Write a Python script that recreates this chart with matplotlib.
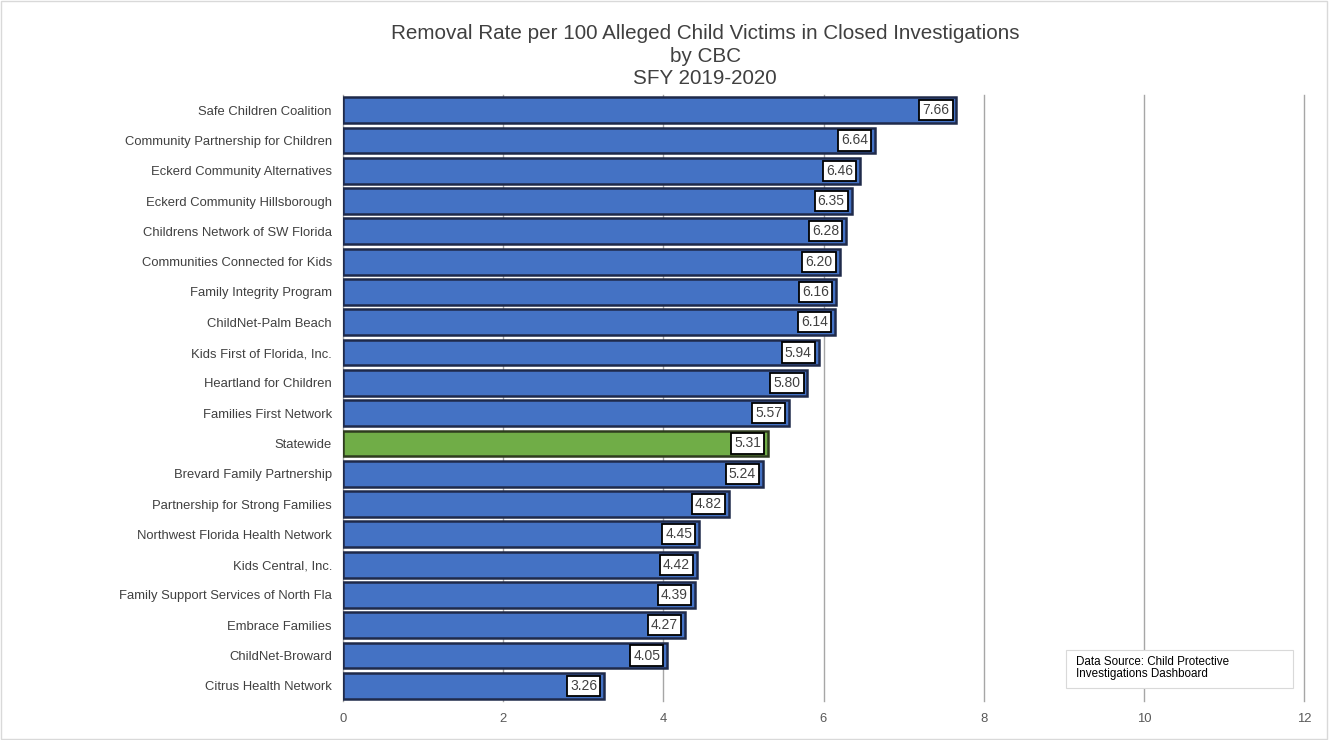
import matplotlib
matplotlib.use("Agg")
import matplotlib.pyplot as plt
from matplotlib.patches import Rectangle

categories = [
    "Safe Children Coalition", "Community Partnership for Children",
    "Eckerd Community Alternatives", "Eckerd Community Hillsborough",
    "Childrens Network of SW Florida", "Communities Connected for Kids",
    "Family Integrity Program", "ChildNet-Palm Beach",
    "Kids First of Florida, Inc.", "Heartland for Children",
    "Families First Network", "Statewide", "Brevard Family Partnership",
    "Partnership for Strong Families", "Northwest Florida Health Network",
    "Kids Central, Inc.", "Family Support Services of North Fla",
    "Embrace Families", "ChildNet-Broward", "Citrus Health Network",
]
values = [7.66, 6.64, 6.46, 6.35, 6.28, 6.20, 6.16, 6.14, 5.94, 5.80,
          5.57, 5.31, 5.24, 4.82, 4.45, 4.42, 4.39, 4.27, 4.05, 3.26]
x_ticks = [0, 2, 4, 6, 8, 10, 12]

plt.rcParams['font.family'] = ['Liberation Sans', 'DejaVu Sans']

fig = plt.figure(figsize=(13.3, 7.4), dpi=100)
ax = fig.add_axes([343/1330, 1-701/740, (1304-343)/1330, 606/740])

colors = ["#70AD47" if c == "Statewide" else "#4472C4" for c in categories]
edges = ["#2E3B1F" if c == "Statewide" else "#1F2A4A" for c in categories]
y = list(range(len(categories)))
ax.barh(y, values, height=0.85, color=colors, edgecolor=edges, linewidth=1.8, zorder=3)

for yi, v in zip(y, values):
    ax.annotate(f"{v:.2f}", xy=(v, yi), xytext=(-5, 0), textcoords="offset points",
                ha="right", va="center", fontsize=10, color="#404040", zorder=5,
                bbox=dict(boxstyle="square,pad=0.22", facecolor="white",
                          edgecolor="black", linewidth=1.3))

ax.set_ylim(len(categories) - 0.5, -0.5)
ax.set_xlim(0, 12)
ax.set_yticks(y)
ax.set_yticklabels(categories, fontsize=9.4, color="#404040")
ax.set_xticks(x_ticks)
ax.set_xticklabels([str(t) for t in x_ticks], fontsize=9.4, color="#595959")
ax.tick_params(axis="both", length=0, pad=8)
ax.tick_params(axis="x", pad=9)
for s in ax.spines.values():
    s.set_visible(False)
ax.xaxis.grid(True, color="#A6A6A6", linewidth=1.0, zorder=0)
ax.set_axisbelow(True)
for gl in ax.get_xgridlines():
    gl.set_clip_on(False)

fig.text(705/1330, 1-56/740, "Removal Rate per 100 Alleged Child Victims in Closed Investigations\nby CBC\nSFY 2019-2020",
         ha="center", va="center", fontsize=14.9, color="#404040", linespacing=1.25)

fig.patches.append(Rectangle((1066/1330, 1-688/740), (1293-1066)/1330, 38/740,
                             transform=fig.transFigure, facecolor="white",
                             edgecolor="#D9D9D9", linewidth=0.8, zorder=1))
fig.text(1076/1330, 1-668/740, "Data Source: Child Protective\nInvestigations Dashboard",
         ha="left", va="center", fontsize=8.4, color="black", linespacing=1.0, zorder=6)

fig.patches.append(Rectangle((0.001, 0.001), 0.997, 0.997, transform=fig.transFigure,
                             fill=False, edgecolor="#D9D9D9", linewidth=1.0))

fig.savefig("out.png", dpi=100)
